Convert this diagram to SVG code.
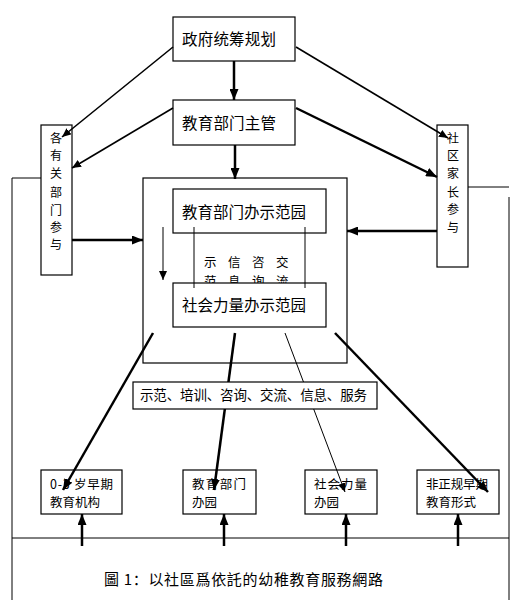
<svg xmlns="http://www.w3.org/2000/svg" width="519" height="607" viewBox="0 0 519 607">
<style>
.b{fill:#fff;stroke:#000;stroke-width:1.2}
.t{font-family:"Noto Sans CJK SC","Noto Sans CJK TC",sans-serif;fill:#000}
.big{font-size:15.5px}
.sm{font-size:12.5px}
.vt{font-size:12px;text-anchor:middle}
.th{stroke:#000;stroke-width:2.5;fill:none}
.md{stroke:#000;stroke-width:1.6;fill:none}
.tn{stroke:#000;stroke-width:1;fill:none}
</style>
<defs>
<marker id="a" markerUnits="userSpaceOnUse" markerWidth="11" markerHeight="9" refX="11" refY="4.5" orient="auto"><path d="M0,0 L11,4.5 L0,9 z" fill="#000"/></marker>
<marker id="s" markerUnits="userSpaceOnUse" markerWidth="9" markerHeight="8" refX="9" refY="4" orient="auto"><path d="M0,0 L9,4 L0,8 z" fill="#000"/></marker>
</defs>
<g id="frame" class="tn">
<polyline points="41,178 12,178 12,600"/>
<line x1="468" y1="187" x2="509" y2="187"/>
<line x1="509" y1="197" x2="509" y2="600"/>
<line x1="12" y1="538" x2="509" y2="538"/>
</g>
<g id="gov"><rect class="b" x="173" y="17" width="122" height="44"/><text class="t big" x="182" y="45" textLength="94">政府统筹规划</text></g>
<g id="edu"><rect class="b" x="173" y="100" width="122" height="45"/><text class="t big" x="182" y="129" textLength="94">教育部门主管</text></g>
<g id="depts"><rect class="b" x="41" y="125" width="31" height="150"/>
<text class="t vt" x="56"><tspan x="56" y="143">各</tspan><tspan x="56" y="160">有</tspan><tspan x="56" y="178">关</tspan><tspan x="56" y="197">部</tspan><tspan x="56" y="215">门</tspan><tspan x="56" y="232">参</tspan><tspan x="56" y="249">与</tspan></text></g>
<g id="parents"><rect class="b" x="437" y="125" width="31" height="142"/>
<text class="t vt" x="453"><tspan x="453" y="143">社</tspan><tspan x="453" y="160">区</tspan><tspan x="453" y="178">家</tspan><tspan x="453" y="197">长</tspan><tspan x="453" y="214">参</tspan><tspan x="453" y="232">与</tspan></text></g>
<g id="centre">
<rect x="143" y="178" width="204" height="185" fill="none" stroke="#000" stroke-width="1.2"/>
<rect class="b" x="173" y="189" width="153" height="44"/>
<text class="t big" x="182" y="218" textLength="124">教育部门办示范园</text>
<line class="tn" x1="194" y1="227" x2="194" y2="288"/>
<line class="tn" x1="305" y1="227" x2="305" y2="288"/>
<line class="tn" x1="163" y1="227" x2="163" y2="280" marker-end="url(#s)"/>
<text class="t sm" y="267"><tspan x="204">示</tspan><tspan x="228">信</tspan><tspan x="252">咨</tspan><tspan x="276">交</tspan></text>
<text class="t sm" y="286"><tspan x="204">范</tspan><tspan x="228">息</tspan><tspan x="252">询</tspan><tspan x="276">流</tspan></text>
<rect class="b" x="173" y="283" width="153" height="44"/>
<line class="tn" x1="194" y1="283" x2="194" y2="288"/>
<line class="tn" x1="305" y1="283" x2="305" y2="288"/>
<text class="t big" x="182" y="311" textLength="124">社会力量办示范园</text>
</g>
<g id="n1"><rect class="b" x="41" y="470" width="81" height="44"/><text class="t sm" x="50" y="489" textLength="63">0-3 岁早期</text><text class="t sm" x="50" y="507">教育机构</text></g>
<g id="n2"><rect class="b" x="183" y="470" width="73" height="44"/><text class="t sm" x="192" y="489" textLength="54">教育部门</text><text class="t sm" x="192" y="507">办园</text></g>
<g id="n3"><rect class="b" x="305" y="470" width="72" height="44"/><text class="t sm" x="314" y="489" textLength="53">社会力量</text><text class="t sm" x="314" y="507">办园</text></g>
<g id="n4"><rect class="b" x="417" y="470" width="82" height="44"/><text class="t sm" x="426" y="489" textLength="62">非正规早期</text><text class="t sm" x="426" y="507">教育形式</text></g>
<g id="connectors">
<line class="th" x1="234" y1="61" x2="234" y2="100" marker-end="url(#a)"/>
<line class="th" x1="235" y1="145" x2="235" y2="179" marker-end="url(#a)"/>
<line class="md" x1="173" y1="47" x2="62" y2="137" marker-end="url(#s)"/>
<line class="md" x1="296" y1="47" x2="448" y2="138" marker-end="url(#s)"/>
<line class="md" x1="173" y1="108" x2="72" y2="168" marker-end="url(#s)"/>
<line class="th" x1="296" y1="108" x2="437" y2="177" marker-end="url(#a)"/>
<line class="th" x1="72" y1="240" x2="143" y2="240" marker-end="url(#a)"/>
<line class="th" x1="437" y1="231" x2="347" y2="231" marker-end="url(#a)"/>
<line class="th" x1="153" y1="333" x2="63" y2="490" marker-end="url(#a)"/>
<line class="th" x1="235" y1="333" x2="214" y2="490" marker-end="url(#a)"/>
<line class="tn" x1="285" y1="333" x2="345" y2="492" marker-end="url(#s)"/>
<line class="th" x1="335" y1="333" x2="488" y2="492" marker-end="url(#a)"/>
<line class="th" x1="82" y1="546" x2="82" y2="514" marker-end="url(#a)"/>
<line class="th" x1="224" y1="546" x2="224" y2="514" marker-end="url(#a)"/>
<line class="th" x1="346" y1="546" x2="346" y2="514" marker-end="url(#a)"/>
<line class="th" x1="458" y1="546" x2="458" y2="514" marker-end="url(#a)"/>
</g>
<g id="services"><rect class="b" x="133" y="382" width="244" height="27"/><text class="t" font-size="13.5" x="140" y="400" textLength="227">示范、培训、咨询、交流、信息、服务</text></g>
<text class="t" font-size="15" x="104" y="585" textLength="279">圖 1：以社區爲依託的幼稚教育服務網路</text>
</svg>
